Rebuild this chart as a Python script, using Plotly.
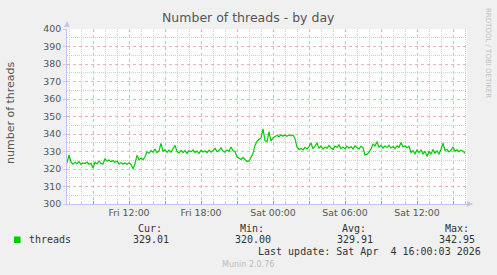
import pandas as pd
import plotly.graph_objects as go

# ---------------- data ----------------
start_time = "2026-04-03 06:50"
sample_step = "10min"
threads = [
    323.5, 328.0, 324.0, 322.8, 323.9, 323.0, 324.2, 322.6, 323.5, 323.1,
    324.0, 322.7, 323.3, 320.6, 323.8, 322.9, 324.5, 323.2, 322.8, 325.8,
    324.6, 325.2, 324.1, 324.8, 323.9, 324.5, 322.9, 323.6, 322.8, 323.4,
    322.7, 323.5, 322.6, 320.1, 323.0, 327.8, 325.3, 326.2, 325.4, 327.0,
    329.8, 329.0, 330.5, 329.6, 331.2, 329.4, 330.3, 334.6, 330.2, 331.0,
    329.5, 330.8, 329.6, 331.4, 333.5, 330.1, 329.2, 330.6, 329.3, 330.5,
    328.9, 330.4, 329.8, 330.9, 329.5, 330.2, 328.8, 330.6, 329.7, 330.3,
    329.4, 330.8, 329.6, 330.5, 331.8, 329.9, 330.7, 332.1, 330.2, 329.6,
    330.9, 330.1, 332.6, 330.4, 330.0, 327.0, 326.2, 325.5, 326.6, 325.2,
    324.3, 324.6, 326.5, 328.8, 333.5, 335.8, 337.0, 337.6, 342.9, 336.2,
    335.5, 341.3, 336.0, 337.8, 338.6, 339.2, 338.5, 339.6, 338.8, 339.3,
    338.7, 339.5, 338.9, 339.4, 337.5, 332.5, 331.2, 331.8, 330.9, 332.4,
    331.5, 332.8, 334.9, 331.6, 333.0, 335.0, 331.8, 333.2, 331.4, 332.6,
    331.9, 333.4, 332.0, 331.2, 333.1, 332.3, 333.8, 331.7, 332.5, 331.6,
    333.0, 331.9, 332.8, 331.4, 333.2, 332.1, 331.5, 333.0, 332.2, 328.0,
    328.5, 329.6, 331.5, 334.3, 333.2, 335.6, 332.4, 333.5, 332.0, 333.1,
    332.3, 333.6, 332.0, 332.8, 331.7, 333.2, 332.4, 335.1, 332.6, 333.3,
    332.2, 333.0, 329.4, 330.5, 328.7, 330.9, 329.3, 331.0, 328.5, 330.2,
    327.2, 330.0, 328.6, 331.1, 329.0, 330.4, 328.4, 331.3, 334.8, 330.6,
    331.2, 329.8, 330.7, 332.6, 330.1, 331.0, 329.9, 330.8, 330.2, 329.0,
]
x_range = ["2026-04-03 06:50", "2026-04-04 16:10"]
y_range = [300, 400]
x_tickvals = [
    "2026-04-03 09:00", "2026-04-03 12:00", "2026-04-03 15:00", "2026-04-03 18:00",
    "2026-04-03 21:00", "2026-04-04 00:00", "2026-04-04 03:00", "2026-04-04 06:00",
    "2026-04-04 09:00", "2026-04-04 12:00", "2026-04-04 15:00",
]
x_ticktext = ["", "Fri 12:00", "", "Fri 18:00", "", "Sat 00:00", "", "Sat 06:00",
              "", "Sat 12:00", ""]
series_name = "threads"
stat_labels = ["Cur:", "Min:", "Avg:", "Max:"]
stat_values = ["329.01", "320.00", "329.91", "342.95"]
title_text = "Number of threads - by day"
y_title = "number of threads"
last_update = "Last update: Sat Apr  4 16:00:03 2026"
footer = "Munin 2.0.76"
side_text = "RRDTOOL / TOBI OETIKER"

times = pd.date_range(start=start_time, periods=len(threads), freq=sample_step)
# hourly minor grid positions that are not on a 3-hour major line
hours = pd.date_range("2026-04-03 07:00", "2026-04-04 16:00", freq="1h")
minor_x = [h.strftime("%Y-%m-%d %H:%M") for h in hours if h.hour % 3 != 0]

# ---------------- layout helpers (pixel -> paper) ----------------
W, H = 497, 275
L, R, T, B = 67, 30, 29, 71
PW, PH = W - L - R, H - T - B


def px(x):
    return (x - L) / PW


def py(y):
    return (H - B - y) / PH


LINE_GREEN = "#00cc00"
AXIS_BLUE = "#c4c4f4"
MGRID = "#ebb4b4"
GRID = "#d0d0d0"
TXT = "#555555"
SANS = "DejaVu Sans"
MONO = "DejaVu Sans Mono"
DOT = "1px,1px"

fig = go.Figure()
fig.add_trace(go.Scatter(x=times, y=threads, mode="lines",
                         line=dict(color=LINE_GREEN, width=1.2),
                         name=series_name, showlegend=False, hoverinfo="skip"))

fig.update_layout(
    width=W, height=H,
    margin=dict(l=L, r=R, t=T, b=B, pad=0, autoexpand=False),
    paper_bgcolor="#f0f0f0", plot_bgcolor="#ffffff",
    font=dict(family=SANS, size=9.4, color=TXT),
    showlegend=False,
)

fig.update_xaxes(
    type="date", range=x_range, automargin=False,
    tickmode="array", tickvals=x_tickvals, ticktext=x_ticktext,
    showgrid=True, gridcolor=MGRID, griddash="dot", gridwidth=1,
    ticks="inside", ticklen=3, tickcolor="#e08080",
    tickfont=dict(family=SANS, size=9.4, color=TXT),
    showline=True, linecolor=AXIS_BLUE, linewidth=1,
    zeroline=False,
    minor=dict(tickmode="array", tickvals=minor_x, showgrid=True,
               gridcolor=GRID, griddash=DOT, gridwidth=1,
               ticks="inside", ticklen=2, tickcolor="#cccccc"),
)

fig.update_yaxes(
    range=y_range, dtick=10, tick0=300, automargin=False,
    showgrid=True, gridcolor=MGRID, griddash="dot", gridwidth=1,
    ticks="outside", ticklen=3, tickcolor="#cccccc",
    tickfont=dict(family=SANS, size=9.4, color=TXT),
    showline=True, linecolor=AXIS_BLUE, linewidth=1,
    zeroline=False,
    minor=dict(tick0=305, dtick=10, showgrid=True, gridcolor=GRID,
               griddash=DOT, gridwidth=1),
)

ann = []
ann.append(dict(text=title_text, x=px(248), y=py(18), xref="paper", yref="paper",
                showarrow=False, xanchor="center", yanchor="middle",
                font=dict(family=SANS, size=12.5, color=TXT)))
ann.append(dict(text=y_title, x=px(10), y=py(113), xref="paper", yref="paper",
                showarrow=False, textangle=-90, xanchor="center", yanchor="middle",
                font=dict(family=SANS, size=11, color=TXT)))
ann.append(dict(text=side_text, x=px(488), y=py(53), xref="paper", yref="paper",
                showarrow=False, textangle=90, xanchor="center", yanchor="middle",
                font=dict(family=SANS, size=7, color="#c0c0c0")))
ann.append(dict(text=series_name, x=px(26.5), y=py(239.5), xref="paper", yref="paper",
                showarrow=False, xanchor="left", yanchor="middle",
                font=dict(family=MONO, size=10, color="#333333")))
label_right = [163.5, 266, 368, 470.5]
value_right = [170.5, 272.5, 374.5, 477]
for lab, val, lr, vr in zip(stat_labels, stat_values, label_right, value_right):
    ann.append(dict(text=lab, x=px(lr), y=py(228), xref="paper", yref="paper",
                    showarrow=False, xanchor="right", yanchor="middle",
                    font=dict(family=MONO, size=10, color="#333333")))
    ann.append(dict(text=val, x=px(vr), y=py(239.5), xref="paper", yref="paper",
                    showarrow=False, xanchor="right", yanchor="middle",
                    font=dict(family=MONO, size=10, color="#333333")))
ann.append(dict(text=last_update.replace(" ", "&nbsp;"), x=px(483), y=py(251.7),
                xref="paper", yref="paper",
                showarrow=False, xanchor="right", yanchor="middle",
                font=dict(family=MONO, size=10, color="#333333")))
ann.append(dict(text=footer, x=px(248), y=py(264.5), xref="paper", yref="paper",
                showarrow=False, xanchor="center", yanchor="middle",
                font=dict(family=SANS, size=8, color="#bbbbbb")))
fig.update_layout(annotations=ann)

shapes = []
# legend swatch
shapes.append(dict(type="rect", xref="paper", yref="paper",
                   x0=px(14), x1=px(20.5), y0=py(243), y1=py(236.5),
                   fillcolor=LINE_GREEN, line=dict(width=0)))
# axis arrows
shapes.append(dict(type="path", xref="paper", yref="paper",
                   path=f"M {px(64)},{py(27)} L {px(70)},{py(27)} L {px(67)},{py(21)} Z",
                   fillcolor=AXIS_BLUE, line=dict(width=0)))
shapes.append(dict(type="path", xref="paper", yref="paper",
                   path=f"M {px(467)},{py(201)} L {px(467)},{py(207)} L {px(473)},{py(204)} Z",
                   fillcolor=AXIS_BLUE, line=dict(width=0)))
fig.update_layout(shapes=shapes)

fig.write_html("out.html")
